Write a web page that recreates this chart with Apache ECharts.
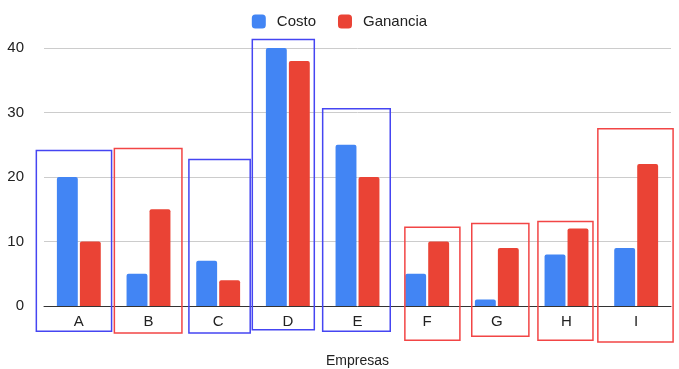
<!DOCTYPE html>
<html>
<head>
<meta charset="utf-8">
<script src="https://cdn.jsdelivr.net/npm/echarts@6/dist/echarts.min.js"></script>
<style>
  html, body { margin: 0; padding: 0; background: #fff; }
  #main { width: 679px; height: 369px; }
</style>
</head>
<body>
<div id="main"></div>
<script>
var empresas = ['A', 'B', 'C', 'D', 'E', 'F', 'G', 'H', 'I'];
var costo = [20, 5, 7, 40, 25, 5, 1, 8, 9];
var ganancia = [10, 15, 4, 38, 20, 10, 9, 12, 22];

// hand-drawn boxes round each company: top / bottom in value units,
// left / right edge as a fraction of one category band from its centre
var boxTop = [24.1, 24.4, 22.7, 41.3, 30.6, 12.2, 12.8, 13.1, 27.5];
var boxBottom = [-3.9, -4.2, -4.2, -3.7, -3.9, -5.3, -4.7, -5.3, -5.6];
var boxLeft = [-0.61, -0.49, -0.42, -0.51, -0.50, -0.32, -0.36, -0.41, -0.55];
var boxRight = [0.47, 0.48, 0.46, 0.38, 0.47, 0.47, 0.46, 0.38, 0.53];

var boxData = empresas.map(function (e, i) {
  return [i, boxTop[i], boxBottom[i], boxLeft[i], boxRight[i], costo[i] > ganancia[i] ? 1 : 0];
});

var chartDom = document.getElementById('main');
var myChart = echarts.init(chartDom);
var option;

option = {
  animation: false,
  textStyle: { fontFamily: 'Arial, "Liberation Sans", sans-serif' },
  legend: {
    data: ['Costo', 'Ganancia'],
    top: 9,
    left: 'center',
    itemWidth: 14,
    itemHeight: 14,
    itemGap: 22,
    icon: 'roundRect',
    textStyle: { fontSize: 15, color: '#222', padding: [0, 0, 0, 6] }
  },
  grid: {
    left: 44,
    right: 8,
    top: 48,
    bottom: 63,
    outerBoundsMode: 'none'
  },
  xAxis: {
    type: 'category',
    data: empresas,
    name: 'Empresas',
    nameLocation: 'middle',
    nameGap: 48,
    nameTextStyle: { fontSize: 14, color: '#222' },
    axisTick: { show: false },
    axisLine: { lineStyle: { color: '#333', width: 1 } },
    axisLabel: { fontSize: 15, color: '#222', margin: 8 }
  },
  yAxis: {
    type: 'value',
    min: 0,
    max: 40,
    interval: 10,
    axisLabel: { fontSize: 15, color: '#222', margin: 20 },
    splitLine: { lineStyle: { color: '#ccc' } }
  },
  series: [
    {
      name: 'Costo',
      type: 'bar',
      data: costo,
      barWidth: '30%',
      barGap: '10%',
      itemStyle: { color: '#4285F4', borderRadius: [2, 2, 0, 0] }
    },
    {
      name: 'Ganancia',
      type: 'bar',
      data: ganancia,
      barWidth: '30%',
      itemStyle: { color: '#EA4335', borderRadius: [2, 2, 0, 0] }
    },
    {
      name: 'boxes',
      type: 'custom',
      clip: false,
      silent: true,
      z: 5,
      data: boxData,
      encode: { x: 0, y: 1 },
      renderItem: function (params, api) {
        var idx = api.value(0);
        var band = api.size([1, 0])[0];
        var topPt = api.coord([idx, api.value(1)]);
        var botPt = api.coord([idx, api.value(2)]);
        var x0 = topPt[0] + api.value(3) * band;
        var x1 = topPt[0] + api.value(4) * band;
        return {
          type: 'rect',
          shape: { x: x0, y: topPt[1], width: x1 - x0, height: botPt[1] - topPt[1] },
          style: {
            fill: 'none',
            stroke: api.value(5) ? '#4545f2' : '#f24545',
            lineWidth: 1.5
          }
        };
      }
    }
  ]
};

option && myChart.setOption(option);

window.onresize = function() {
  myChart.resize();
};
</script>
</body>
</html>
